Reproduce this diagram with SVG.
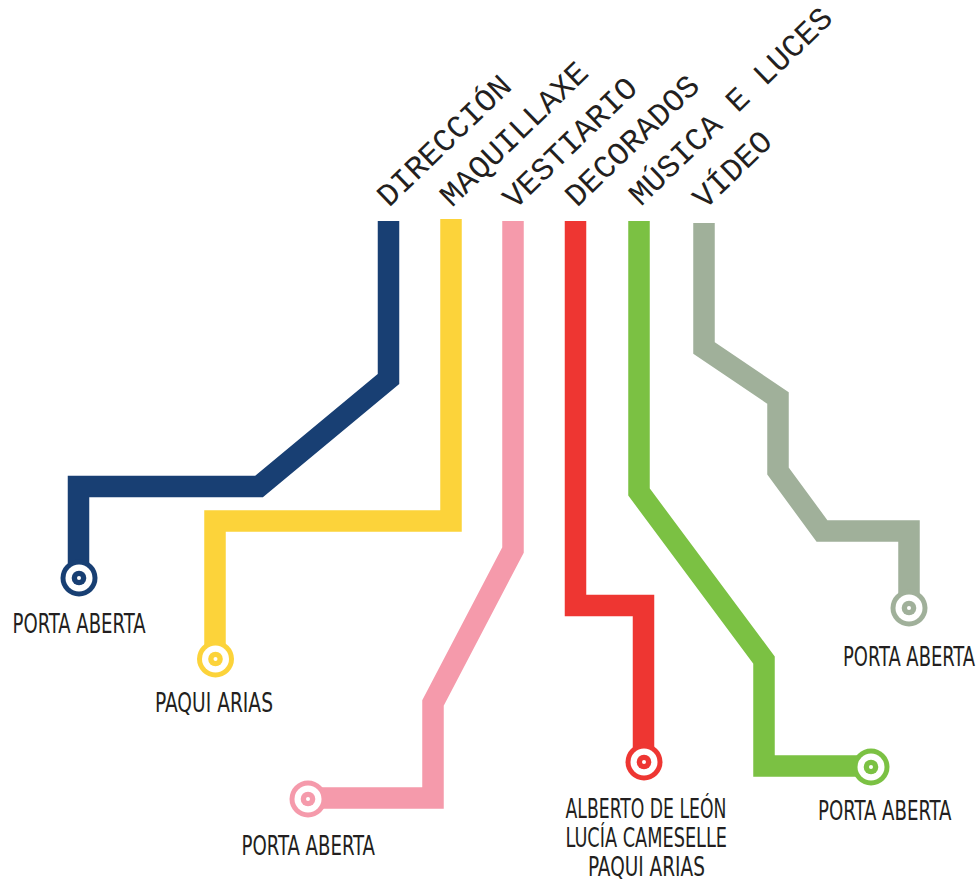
<svg xmlns="http://www.w3.org/2000/svg" xmlns:xlink="http://www.w3.org/1999/xlink" width="978" height="879" viewBox="0 0 978 879">
<style>
.ln{fill:none;stroke-width:21.5;stroke-linejoin:miter;stroke-linecap:butt;stroke-miterlimit:10}
.hd{font-family:"Liberation Mono","DejaVu Sans Mono",monospace;font-size:32px;fill:#231f20}
.lb{font-family:"Liberation Sans Narrow","DejaVu Sans Condensed","Liberation Sans",sans-serif;font-size:26px;fill:#231f20;font-weight:500}
</style>
<defs>
<g id="st"><circle r="18.5" fill="currentColor"/><circle r="13.5" fill="#fff"/><circle r="7.3" fill="currentColor"/><circle r="2" fill="#fff"/></g>
</defs>
<rect width="978" height="879" fill="#fff"/>
<g id="connectors">
<polyline class="ln" stroke="#183f73" points="388.5,221 388.5,379 259,486.5 78.5,486.5 78.5,578"/>
<polyline class="ln" stroke="#fcd33a" points="451,219 451,521 215,521 215,659"/>
<polyline class="ln" stroke="#f59aab" points="513,221 513,550 433,703 433,798 308,798"/>
<polyline class="ln" stroke="#ee3632" points="575.5,221 575.5,605.5 643.5,605.5 643.5,762"/>
<polyline class="ln" stroke="#7bc143" points="639,221 639,492 764,660 764,766 871,766"/>
<polyline class="ln" stroke="#a0b09a" points="704,223 704,348 778,398 778,471 822,531 909,531 909,608"/>
</g>
<g id="head-direccion"><text class="hd" transform="translate(389,208) rotate(-44)">DIRECCIÓN</text></g>
<g id="head-maquillaxe"><text class="hd" transform="translate(452,208) rotate(-44)">MAQUILLAXE</text></g>
<g id="head-vestiario"><text class="hd" transform="translate(515,210) rotate(-44)">VESTIARIO</text></g>
<g id="head-decorados"><text class="hd" transform="translate(577,208) rotate(-44)">DECORADOS</text></g>
<g id="head-musica"><text class="hd" transform="translate(641,207) rotate(-44)">MÚSICA E LUCES</text></g>
<g id="head-video"><text class="hd" transform="translate(705,210) rotate(-44)">VÍDEO</text></g>
<g id="st-direccion"><use xlink:href="#st" href="#st" x="79" y="578" color="#183f73"/><text class="lb" x="12.5" y="633" textLength="133" lengthAdjust="spacingAndGlyphs">PORTA ABERTA</text></g>
<g id="st-maquillaxe"><use xlink:href="#st" href="#st" x="215.5" y="659" color="#fcd33a"/><text class="lb" x="155" y="712" textLength="118" lengthAdjust="spacingAndGlyphs">PAQUI ARIAS</text></g>
<g id="st-vestiario"><use xlink:href="#st" href="#st" x="308" y="799" color="#f59aab"/><text class="lb" x="241.5" y="855" textLength="133.5" lengthAdjust="spacingAndGlyphs">PORTA ABERTA</text></g>
<g id="st-decorados"><use xlink:href="#st" href="#st" x="644" y="762" color="#ee3632"/>
<text class="lb" x="565.5" y="817.5" textLength="161" lengthAdjust="spacingAndGlyphs">ALBERTO DE LEÓN</text>
<text class="lb" x="565.5" y="847" textLength="161.5" lengthAdjust="spacingAndGlyphs">LUCÍA CAMESELLE</text>
<text class="lb" x="588" y="875.5" textLength="117" lengthAdjust="spacingAndGlyphs">PAQUI ARIAS</text></g>
<g id="st-musica"><use xlink:href="#st" href="#st" x="871" y="767" color="#7bc143"/><text class="lb" x="818" y="820" textLength="133.5" lengthAdjust="spacingAndGlyphs">PORTA ABERTA</text></g>
<g id="st-video"><use xlink:href="#st" href="#st" x="909" y="608" color="#a0b09a"/><text class="lb" x="843" y="665.5" textLength="132" lengthAdjust="spacingAndGlyphs">PORTA ABERTA</text></g>
</svg>
